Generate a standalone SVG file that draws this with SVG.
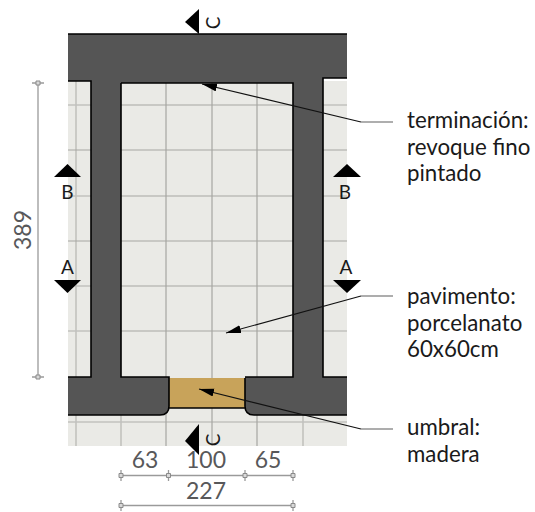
<svg xmlns="http://www.w3.org/2000/svg" width="535" height="512" viewBox="0 0 535 512">
<style>
text{font-family:"Lato","Noto Sans","Liberation Sans",sans-serif}
.lab{font-size:22.300px;fill:#1a1a1a}
.dim{font-size:23px;fill:#58585a;text-anchor:middle}
.mark{font-size:19px;fill:#1a1a1a;text-anchor:middle}
.g1{stroke:#a6a6a2;stroke-width:1.2;fill:none}
.g2{stroke:#c2c2be;stroke-width:1.6;fill:none}
.wall{fill:#555555;stroke:none;fill-rule:evenodd}
.edge{stroke:#000;stroke-width:1.6;fill:none}
.dl{stroke:#9a9a9a;stroke-width:1.3;fill:none}
.tk{stroke:#8a8a8a;stroke-width:1;fill:#d8d8d8}
.lead{stroke:#111;stroke-width:1.1;fill:none}
.leadh{stroke:#777;stroke-width:1.2;fill:none}
</style>
<defs>
<marker id="ah" markerUnits="userSpaceOnUse" markerWidth="16" markerHeight="10" refX="15" refY="4" orient="auto"><path d="M0 0L15 4L0 8Z" fill="#000"/></marker>
<g id="tick"><path class="tk" d="M-2 -2h4v4h-4z"/></g>
</defs>
<g id="floor">
<rect x="68" y="81" width="279" height="365" fill="#eaeae6"/>
<path class="g2" d="M76 81V446M68 105H121M68 196H121M68 286H121M68 422H347M293 105H347M293 196H347M293 286H347M121 415V446M303 415V446M68 331H121M293 331H347"/>
<path class="g1" d="M121 105H293M121 150H293M121 196H293M121 241H293M121 286H293M121 331H293M166 83V446M212 83V446M257 83V446M68 150H121M68 241H121M293 150H347M293 241H347"/>
</g>
<g id="walls">
<path class="wall" d="M68 34H347V78H323V377H347V415H254Q245 415 245 406V377H293V83H121V377H169V406Q169 415 160 415H68V377H91V81H68Z"/>
<rect x="169" y="378" width="76" height="30" fill="#c8a35a"/>
<path class="edge" d="M68 34H347M68 81H91V377H68M121 83H293V377H245M121 83V377H169V406Q169 415 160 415H68M347 78H323V377H347M245 378V406Q245 415 254 415H347M169 408H245" stroke-width="1.6"/>
</g>
<g id="connectors">
<path class="lead" d="M361 122L202 84" marker-end="url(#ah)"/><path class="leadh" d="M361 122H393"/>
<path class="lead" d="M361 296L226 333" marker-end="url(#ah)"/><path class="leadh" d="M361 296H393"/>
<path class="lead" d="M361 429L199 389" marker-end="url(#ah)"/><path class="leadh" d="M361 429H393"/>
</g>
<g id="label-terminacion"><text class="lab" x="407" y="128">terminación:</text><text class="lab" x="407" y="155">revoque fino</text><text class="lab" x="407" y="181">pintado</text></g>
<g id="label-pavimento"><text class="lab" x="407" y="304">pavimento:</text><text class="lab" x="407" y="331">porcelanato</text><text class="lab" x="407" y="357">60x60cm</text></g>
<g id="label-umbral"><text class="lab" x="407" y="435">umbral:</text><text class="lab" x="407" y="462">madera</text></g>
<g id="section-marks">
<path d="M185 22L199 9V34Z"/>
<text class="mark" transform="translate(220 23) rotate(-90)">C</text>
<path d="M185 441L199 424V455Z"/>
<text class="mark" transform="translate(220 440) rotate(-90)">C</text>
<path d="M67.500 164L81 177H54Z"/><text class="mark" x="67.500" y="199">B</text>
<path d="M347 164L361 177H333Z"/><text class="mark" x="345" y="199">B</text>
<path d="M67.500 293L81 280H54Z"/><text class="mark" x="67.500" y="274">A</text>
<path d="M347 293L361 280H333Z"/><text class="mark" x="346" y="274">A</text>
</g>
<g id="dimensions">
<path class="dl" d="M38 83V377M32 83H44M32 377H44"/><use href="#tick" x="38" y="83"/><use href="#tick" x="38" y="377"/>
<text class="dim" transform="translate(31 230) rotate(-90)">389</text>
<path class="dl" d="M121 475.500H293M121 470V481M168.500 470V481M245 470V481M293 470V481"/>
<use href="#tick" x="121" y="475.500"/><use href="#tick" x="168.500" y="475.500"/><use href="#tick" x="245" y="475.500"/><use href="#tick" x="293" y="475.500"/>
<path class="dl" d="M121 505.500H293M121 500V511M293 500V511"/>
<use href="#tick" x="121" y="505.500"/><use href="#tick" x="293" y="505.500"/>
<text class="dim" x="145" y="468">63</text>
<text class="dim" x="206" y="468">100</text>
<text class="dim" x="268" y="468">65</text>
<text class="dim" x="206" y="499">227</text>
</g>
</svg>
